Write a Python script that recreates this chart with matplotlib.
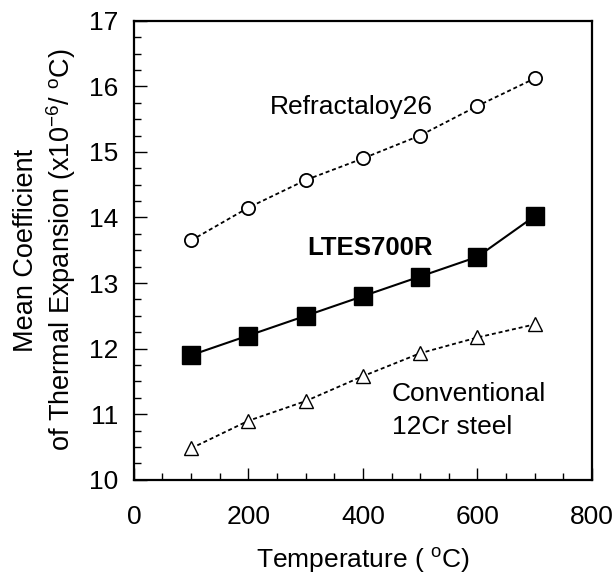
import numpy as np
import matplotlib
matplotlib.use('Agg')
import matplotlib.pyplot as plt
from matplotlib.ticker import MultipleLocator

plt.rcParams['font.family'] = ['Liberation Sans', 'DejaVu Sans']
plt.rcParams['mathtext.fontset'] = 'custom'
plt.rcParams['mathtext.rm'] = 'Liberation Sans'

# data
temperature = [100, 200, 300, 400, 500, 600, 700]
refractaloy26 = [13.65, 14.15, 14.57, 14.9, 15.25, 15.7, 16.12]
ltes700r = [11.9, 12.2, 12.5, 12.8, 13.1, 13.4, 14.02]
cr12_steel = [10.48, 10.9, 11.2, 11.58, 11.93, 12.17, 12.37]

fig = plt.figure(figsize=(6.14, 5.76), dpi=100)
ax = fig.add_axes([0.218, 0.167, 0.746, 0.797])

dash = (0, (2.2, 1.6))
ax.plot(temperature, refractaloy26, color='black', lw=1.3, ls=dash,
        marker='o', ms=9.5, mfc='white', mec='black', mew=1.3)
ax.plot(temperature, ltes700r, color='black', lw=1.5, ls='-',
        marker='s', ms=12.5, mfc='black', mec='black')
ax.plot(temperature, cr12_steel, color='black', lw=1.3, ls=dash,
        marker='^', ms=10.5, mfc='white', mec='black', mew=1.0)

ax.text(237, 15.69, 'Refractaloy26', fontsize=19, va='center', ha='left')
ax.text(302, 13.54, 'LTES700R', fontsize=18.5, fontweight='bold', va='center', ha='left')
ax.text(451, 11.31, 'Conventional', fontsize=19, va='center', ha='left')
ax.text(451, 10.80, '12Cr steel', fontsize=19, va='center', ha='left')

ax.set_xlim(0, 800)
ax.set_ylim(10, 17)
ax.xaxis.set_major_locator(MultipleLocator(200))
ax.xaxis.set_minor_locator(MultipleLocator(50))
ax.yaxis.set_major_locator(MultipleLocator(1))
ax.yaxis.set_minor_locator(MultipleLocator(0.25))
ax.tick_params(which='both', direction='in', top=False, right=False, labelsize=19, colors='black')
ax.tick_params(which='major', length=9, width=1)
ax.tick_params(which='minor', length=5, width=1)
ax.tick_params(axis='x', pad=18)
ax.tick_params(axis='y', pad=11)
for s in ax.spines.values():
    s.set_linewidth(1.6)

ax.set_xlabel('Temperature ( $^{\\rm o}$C)', fontsize=19, labelpad=12)
ax.set_ylabel('Mean Coefficient\nof Thermal Expansion (x10$^{-6}$/ $^{\\rm o}$C)',
              fontsize=19.5, labelpad=8, linespacing=1.2)

fig.savefig('out.png', dpi=100)
